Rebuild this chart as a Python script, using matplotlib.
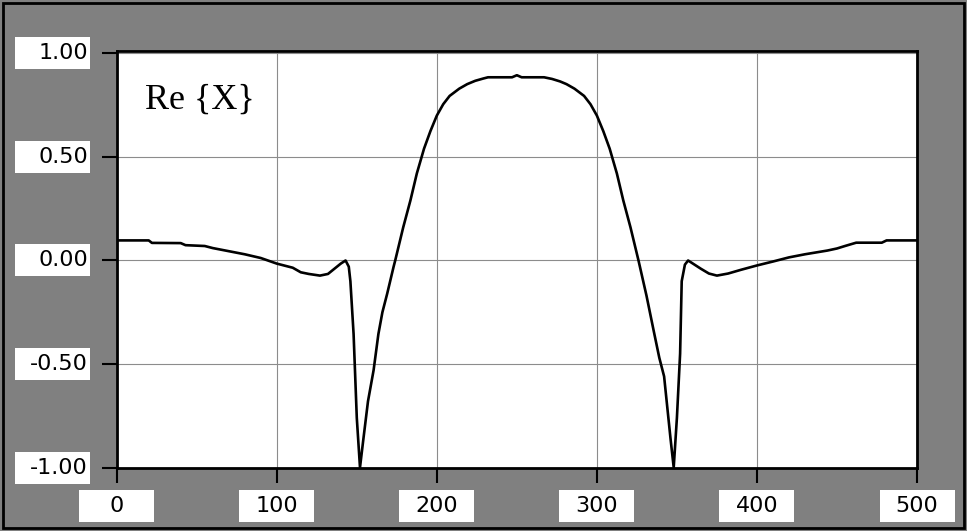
import matplotlib
matplotlib.use("Agg")
import matplotlib.pyplot as plt
from matplotlib.patches import Rectangle

n = [0, 20, 22, 40, 43, 55, 60, 70, 80, 90, 100, 110, 115, 120, 127, 132, 136, 140,
     143, 145, 146, 148, 150, 152, 154, 157, 160.5, 163.5, 166, 169, 173, 174, 179,
     183.5, 187.5, 190.5, 192, 196, 200, 204, 208, 214, 219, 224, 229, 232, 247, 250,
     253, 267, 272, 277, 281, 286, 292, 296, 300, 304, 308, 309.5, 312.5, 316.5, 321,
     326, 331, 335.5, 339, 342, 344, 346, 348, 350, 352, 353, 355, 357, 360, 365, 370,
     375, 382, 390, 400, 410, 420, 430, 444, 450, 455, 462, 478, 481, 500]
re_x = [0.097, 0.097, 0.085, 0.084, 0.074, 0.070, 0.060, 0.045, 0.030, 0.012, -0.015,
        -0.035, -0.057, -0.065, -0.073, -0.065, -0.04, -0.015, 0.0, -0.03, -0.1, -0.355,
        -0.76, -1.0, -0.87, -0.68, -0.53, -0.355, -0.25, -0.16, -0.03, 0.0, 0.16, 0.29,
        0.42, 0.5, 0.54, 0.625, 0.70, 0.755, 0.795, 0.83, 0.852, 0.868, 0.879, 0.885,
        0.885, 0.895, 0.885, 0.885, 0.877, 0.865, 0.852, 0.83, 0.795, 0.755, 0.70, 0.625,
        0.54, 0.5, 0.42, 0.29, 0.16, 0.0, -0.17, -0.34, -0.47, -0.56, -0.71, -0.86, -1.0,
        -0.76, -0.45, -0.1, -0.02, 0.0, -0.015, -0.04, -0.063, -0.073, -0.063, -0.045,
        -0.024, -0.005, 0.015, 0.03, 0.048, 0.058, 0.07, 0.086, 0.086, 0.097, 0.097]

xticks = [0, 100, 200, 300, 400, 500]
yticks = [-1.0, -0.5, 0.0, 0.5, 1.0]
ytick_labels = ['-1.00', '-0.50', '0.00', '0.50', '1.00']

W, H = 967, 531
fig = plt.figure(figsize=(W / 100, H / 100), dpi=100, facecolor='#808080')
ax = fig.add_axes([116.7 / W, 1 - 467.5 / H, (917 - 116.7) / W, (467.5 - 51) / H])
ax.set_facecolor('white')

ax.plot(n, re_x, color='black', lw=1.9)

ax.set_xlim(0, 500)
ax.set_ylim(-1.0, 1.012)
ax.set_xticks(xticks)
ax.set_yticks(yticks)
ax.grid(True, color='#8c8c8c', lw=0.8)
ax.tick_params(axis='both', direction='out', length=11, width=1.5, color='black',
               labelbottom=False, labelleft=False)
for s in ax.spines.values():
    s.set_linewidth(2)
    s.set_color('black')

ax.text(17.7, 0.735, 'Re {X}', family='Liberation Serif', fontsize=26, va='baseline')

# tick labels in white boxes
inv = fig.transFigure.inverted()
for xv in xticks:
    px = ax.transData.transform((xv, 0))[0]
    x0 = inv.transform((px - 37.5, 0))[0]
    fig.patches.append(Rectangle((x0, 1 - 522 / H), 75 / W, 32 / H, transform=fig.transFigure,
                                 facecolor='white', edgecolor='none'))
    fig.text(px / W, 1 - 506 / H, str(xv), ha='center', va='center', fontsize=16)

for yv, lab in zip(yticks, ytick_labels):
    py = ax.transData.transform((0, yv))[1]
    fig.patches.append(Rectangle((15 / W, (py - 16) / H), 75 / W, 32 / H, transform=fig.transFigure,
                                 facecolor='white', edgecolor='none'))
    fig.text(88 / W, py / H, lab, ha='right', va='center', fontsize=16)

# outer frame
fig.patches.append(Rectangle((3 / W, 3 / H), (W - 6) / W, (H - 6) / H, transform=fig.transFigure,
                             facecolor='none', edgecolor='black', lw=2))

fig.savefig('out.png', dpi=100, facecolor=fig.get_facecolor())
